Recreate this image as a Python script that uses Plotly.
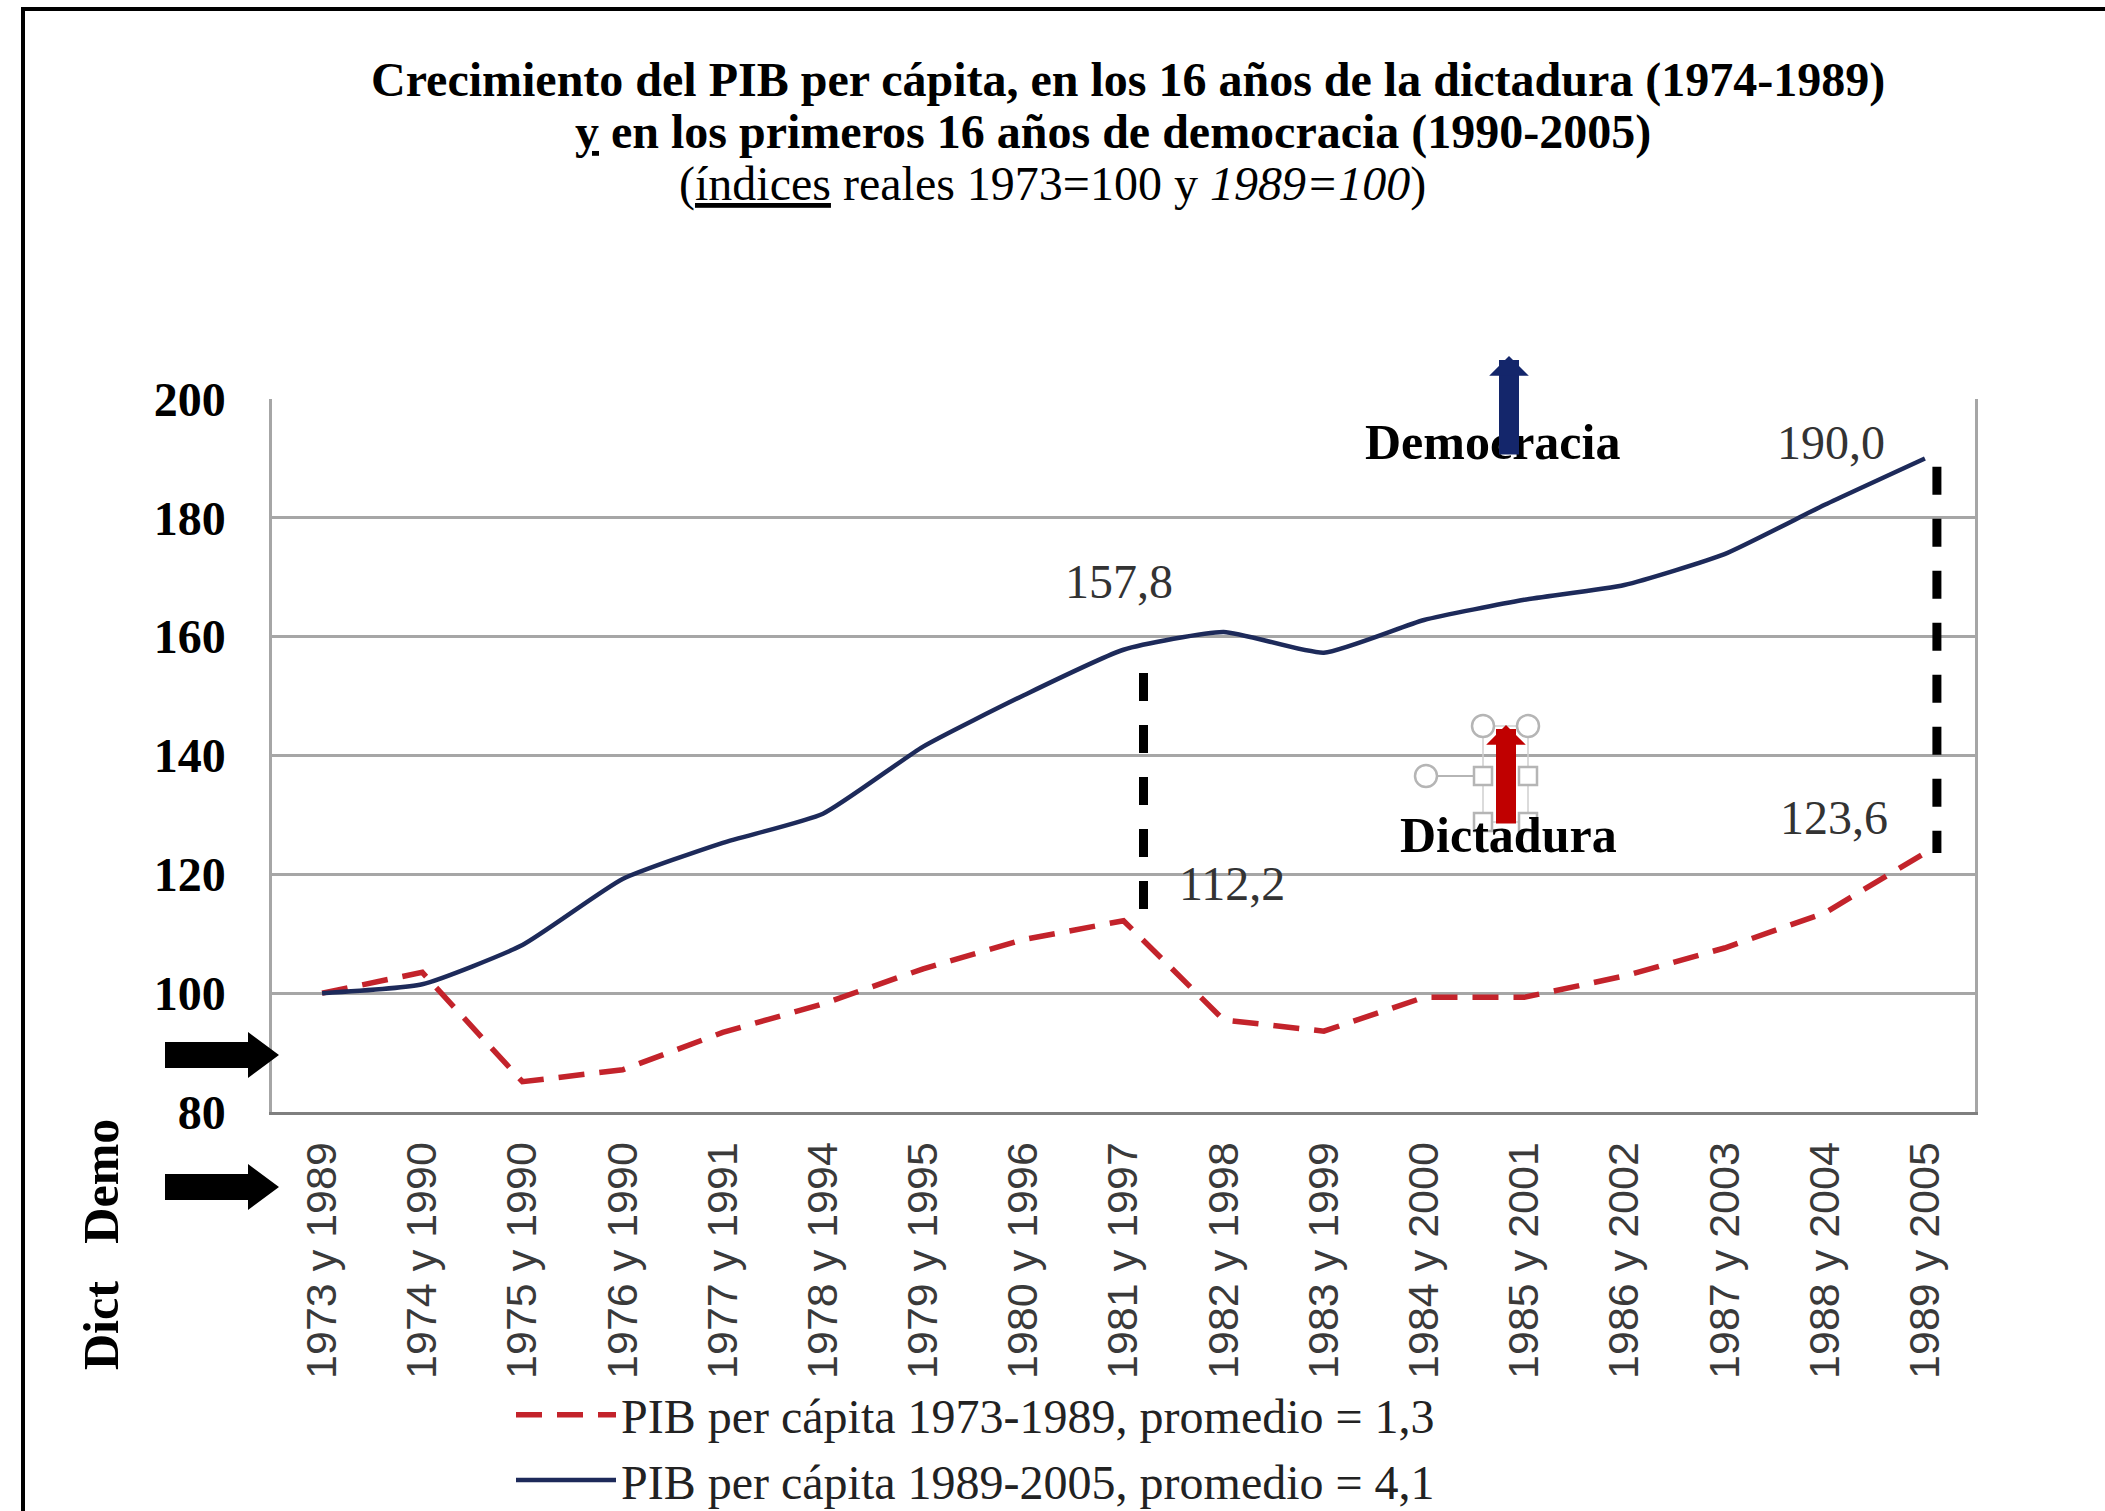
import plotly.graph_objects as go

# ---------------- data ----------------
categories = ["1973 y 1989", "1974 y 1990", "1975 y 1990", "1976 y 1990", "1977 y 1991",
              "1978 y 1994", "1979 y 1995", "1980 y 1996", "1981 y 1997", "1982 y 1998",
              "1983 y 1999", "1984 y 2000", "1985 y 2001", "1986 y 2002", "1987 y 2003",
              "1988 y 2004", "1989 y 2005"]
dictadura = [100, 103.5, 85.1, 87.1, 93.4, 98.2, 104.1, 109.0, 112.2, 95.5, 93.6,
             99.3, 99.3, 102.9, 107.6, 113.5, 123.6]
democracia = [100, 101.5, 108.1, 119.2, 125.3, 130.2, 141.5, 150.1, 157.8, 160.8, 157.3,
              162.8, 166.2, 168.7, 173.9, 182.2, 190.0]
y_ticks = [80, 100, 120, 140, 160, 180, 200]
legend_names = ["PIB per cápita 1973-1989, promedio = 1,3",
                "PIB per cápita 1989-2005, promedio = 4,1"]
title_lines = ["<b>Crecimiento del PIB per cápita, en los 16 años de la dictadura (1974-1989)</b>",
               "<b><u>y</u> en los primeros 16 años de democracia (1990-2005)</b>",
               "(<u>índices</u> reales 1973=100 y <i>1989=100</i>)"]

# ---------------- geometry helpers ----------------
W, H = 2105, 1511
ML, MR, MT, MB = 272, 130, 399, 399
PW = W - ML - MR
PH = H - MT - MB


def px(x):
    return (x - ML) / PW


def py(y):
    return (H - MB - y) / PH


SERIF = "Liberation Serif"
SANS = "Liberation Sans"
RED = "#c3232b"
NAVY = "#1d2a5a"


def fmt(v):
    return f"{v:.1f}".replace(".", ",")


fig = go.Figure()
fig.add_trace(go.Scatter(
    x=categories, y=dictadura, mode="lines", name=legend_names[0],
    line=dict(color=RED, width=5.5, dash="26px,15px"),
    legendgroup="a", hoverinfo="skip"))
fig.add_trace(go.Scatter(
    x=categories, y=democracia, mode="lines", name=legend_names[1],
    line=dict(color=NAVY, width=4.5, shape="spline", smoothing=0.5),
    legendgroup="b", hoverinfo="skip"))

shapes = []
# outer frame (left and top visible)
shapes.append(dict(type="line", xref="paper", yref="paper", x0=px(23), x1=px(23),
                   y0=py(9), y1=py(H + 20), line=dict(color="black", width=4)))
shapes.append(dict(type="line", xref="paper", yref="paper", x0=px(21), x1=px(W + 20),
                   y0=py(9), y1=py(9), line=dict(color="black", width=4)))

# black vertical dashed connectors
for idx, off, gap in [(8, 20, 3.9), (16, 12, 1.4)]:
    shapes.append(dict(type="line", xref="x", yref="y", xsizemode="pixel",
                       xanchor=categories[idx], x0=off, x1=off,
                       y0=democracia[idx] - gap, y1=dictadura[idx],
                       line=dict(color="black", width=9, dash="28px,24px"), layer="above"))

# black block arrows on the left
for yc in [1055, 1187]:
    pts = [(165, yc - 13), (248, yc - 13), (248, yc - 23), (279, yc), (248, yc + 23),
           (248, yc + 13), (165, yc + 13)]
    path = "M " + " L ".join(f"{px(a):.5f},{py(b):.5f}" for a, b in pts) + " Z"
    shapes.append(dict(type="path", xref="paper", yref="paper", path=path,
                       fillcolor="black", line=dict(width=0)))

# selection handles around the red arrow
HG = "#b5b5b5"
shapes.append(dict(type="rect", xref="paper", yref="paper", x0=px(1483), x1=px(1528),
                   y0=py(822), y1=py(726), line=dict(color="#d0d0d0", width=1.5)))
shapes.append(dict(type="line", xref="paper", yref="paper", x0=px(1437), x1=px(1474),
                   y0=py(776), y1=py(776), line=dict(color=HG, width=2)))
for cx, cy in [(1483, 726), (1528, 726), (1426, 776)]:
    shapes.append(dict(type="circle", xref="paper", yref="paper", x0=px(cx - 11), x1=px(cx + 11),
                       y0=py(cy + 11), y1=py(cy - 11), fillcolor="white",
                       line=dict(color=HG, width=2.5)))
for cx, cy in [(1483, 776), (1528, 776), (1483, 822), (1528, 822)]:
    shapes.append(dict(type="rect", xref="paper", yref="paper", x0=px(cx - 9), x1=px(cx + 9),
                       y0=py(cy + 9), y1=py(cy - 9), fillcolor="white",
                       line=dict(color=HG, width=2.5)))

annotations = []
# title lines
for text, cx, cy in zip(title_lines, [1128, 1113, 1052], [80, 132, 184]):
    annotations.append(dict(text=text, xref="paper", yref="paper", x=px(cx), y=py(cy),
                            xanchor="center", yanchor="middle", showarrow=False,
                            font=dict(family=SERIF, size=48, color="black")))

# value labels
VAL_FONT = dict(family=SERIF, size=48, color="#333333")
annotations += [
    dict(text=fmt(democracia[8]), x=categories[8], y=democracia[8], xshift=-5, yshift=68,
         showarrow=False, font=VAL_FONT),
    dict(text=fmt(dictadura[8]), x=categories[8], y=dictadura[8], xshift=108, yshift=37,
         showarrow=False, font=VAL_FONT),
    dict(text=fmt(democracia[16]), x=categories[16], y=democracia[16], xshift=-94, yshift=16,
         showarrow=False, font=VAL_FONT),
    dict(text=fmt(dictadura[16]), x=categories[16], y=dictadura[16], xshift=-91, yshift=35,
         showarrow=False, font=VAL_FONT),
]

# regime labels with arrows
annotations.append(dict(text="<b>Democracia</b>", xref="paper", yref="paper", x=px(1492), y=py(442),
                        xanchor="center", yanchor="middle",
                        showarrow=False, font=dict(family=SERIF, size=50, color="black")))
annotations.append(dict(text="", xref="paper", yref="paper", x=px(1509), y=py(356),
                        showarrow=True, ax=0, ay=100, arrowhead=1, arrowwidth=20,
                        arrowsize=0.33, arrowcolor="#14266b", standoff=0))
annotations.append(dict(text="<b>Dictadura</b>", xref="paper", yref="paper", x=px(1508), y=py(835),
                        xanchor="center", yanchor="middle",
                        showarrow=False, font=dict(family=SERIF, size=50, color="black")))
annotations.append(dict(text="", xref="paper", yref="paper", x=px(1506), y=py(725),
                        showarrow=True, ax=0, ay=100, arrowhead=1, arrowwidth=20,
                        arrowsize=0.33, arrowcolor="#c00000", standoff=0))

# rotated side label
annotations.append(dict(text="<b>Dict   Demo</b>", xref="paper", yref="paper", x=px(101), y=py(1245),
                        xanchor="center", yanchor="middle", textangle=-90, showarrow=False,
                        font=dict(family=SERIF, size=50, color="black")))

fig.update_layout(
    width=W, height=H,
    margin=dict(l=ML, r=MR, t=MT, b=MB, pad=0, autoexpand=False),
    paper_bgcolor="white", plot_bgcolor="white",
    showlegend=True,
    legend=dict(x=px(511), y=py(1377), xanchor="left", yanchor="top",
                orientation="v", itemwidth=100, traceorder="grouped", tracegroupgap=0,
                font=dict(family=SERIF, size=48, color="#222222"),
                bgcolor="rgba(0,0,0,0)"),
    xaxis=dict(type="category", range=[-0.5, 16.5], showgrid=False, automargin=False,
               showline=True, linecolor="#7f7f7f", linewidth=3,
               ticks="", tickangle=-90, ticklabelstandoff=10,
               tickfont=dict(family=SANS, size=43, color="#3a3a3a")),
    yaxis=dict(range=[80, 200], tickvals=y_ticks, showgrid=True, automargin=False,
               gridcolor="#a6a6a6", gridwidth=2.5, zeroline=False,
               showline=True, linecolor="#a6a6a6", linewidth=2.5, mirror=True,
               ticks="", ticklabelstandoff=34,
               tickfont=dict(family=SERIF, size=48, color="black", weight="bold")),
    shapes=shapes,
    annotations=annotations,
)

fig.write_html("out.html", config={"displayModeBar": False},
               post_script="document.body.style.margin='0';")
